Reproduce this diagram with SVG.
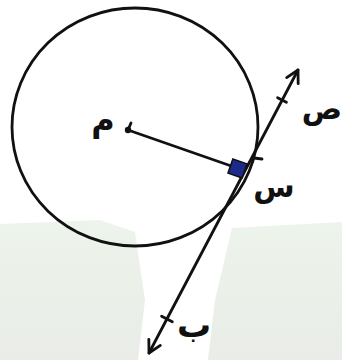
<svg xmlns="http://www.w3.org/2000/svg" width="342" height="360" viewBox="0 0 342 360">
  <defs>
    <style>
      .ln { stroke:#111; stroke-width:2.8; fill:none; stroke-linecap:round; stroke-linejoin:round; }
      .lbl { font-family:"DejaVu Sans", sans-serif; font-weight:bold; fill:#111; }
    </style>
    <linearGradient id="bgL" x1="0" y1="0" x2="0" y2="1">
      <stop offset="0" stop-color="#edf4eb"/>
      <stop offset="1" stop-color="#e9ece7"/>
    </linearGradient>
    <marker id="arr" markerUnits="userSpaceOnUse" markerWidth="20" markerHeight="20" refX="0" refY="0" viewBox="-14 -10 16 20" orient="auto-start-reverse">
      <path d="M -12,-6.5 L 0,0 L -12,6.5" fill="none" stroke="#111" stroke-width="2.8" stroke-linecap="round" stroke-linejoin="round"/>
    </marker>
  </defs>
  <rect width="342" height="360" fill="#ffffff"/>
  <g id="background">
    <polygon points="0,224 100,220 135,232 145,300 138,360 0,360" fill="url(#bgL)"/>
    <polygon points="232,228 342,222 342,360 208,360 215,300" fill="url(#bgL)"/>
  </g>
  <g id="circle">
    <ellipse cx="135" cy="127" rx="123" ry="119" class="ln"/>
  </g>
  <g id="connectors">
    <line id="radius" x1="128" y1="130" x2="237" y2="168" class="ln"/>
    <line id="tangent" x1="149" y1="353" x2="298" y2="70" class="ln" marker-start="url(#arr)" marker-end="url(#arr)"/>
    <line x1="277.6" y1="97.7" x2="286.4" y2="102.3" class="ln"/>
    <line x1="161.6" y1="316.2" x2="172.3" y2="321.8" class="ln"/>
    <line x1="254" y1="158" x2="262" y2="159" class="ln" stroke-width="2"/>
  </g>
  <g id="right-angle">
    <rect x="230" y="161" width="15" height="15" fill="#1c2a8c" stroke="#111" stroke-width="1.5" transform="rotate(19 237.5 168.5)"/>
  </g>
  <g id="center">
    <circle cx="128" cy="130" r="3.2" fill="#111"/>
    <line x1="128" y1="130" x2="131" y2="123" class="ln" stroke-width="2"/>
    <text class="lbl" x="103" y="131" font-size="32" text-anchor="middle">م</text>
  </g>
  <g id="label-s">
    <text class="lbl" x="274" y="197" font-size="30" text-anchor="middle">س</text>
  </g>
  <g id="label-sad">
    <text class="lbl" x="322" y="119" font-size="30" text-anchor="middle">ص</text>
  </g>
  <g id="label-b">
    <text class="lbl" x="194" y="337" font-size="34" text-anchor="middle">ب</text>
  </g>
</svg>
